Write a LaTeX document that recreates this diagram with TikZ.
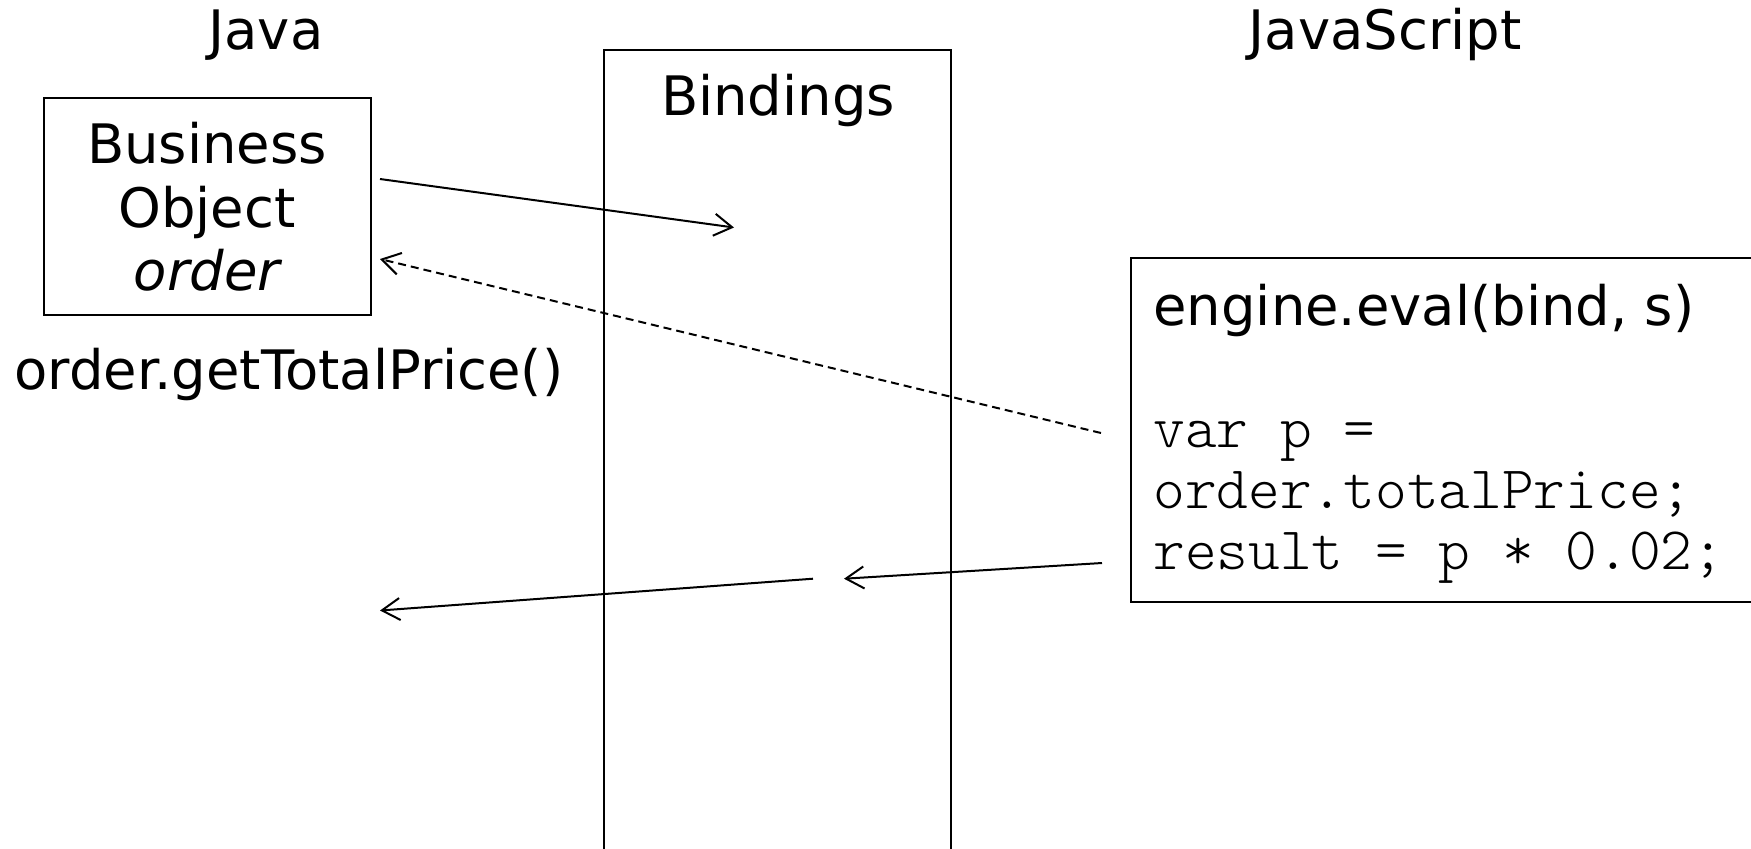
\documentclass[tikz,border=0pt]{standalone}
\usepackage{fontspec}
\setmainfont{DejaVu Sans}
\setmonofont{Latin Modern Mono Light}
\usetikzlibrary{arrows.meta}
\begin{document}
\begin{tikzpicture}[x=0.5pt,y=-0.5pt,
  box/.style={draw,line width=1pt,inner sep=0pt},
  txt/.style={inner sep=0pt,font=\fontsize{27.2}{32.5}\selectfont},
  code/.style={inner sep=0pt,font=\ttfamily\fontsize{30.2}{31}\selectfont},
  link/.style={line width=1pt,-{Straight Barb[length=9pt,width=11pt]}},
  back/.style={link,dash pattern=on 4pt off 2.5pt},
]
\useasboundingbox (0,0) rectangle (1751,848);

% column headings
\node[txt,anchor=base] (hjava) at (266,49) {Java};
\node[txt,anchor=base] (hjs) at (1385,49) {JavaScript};

% Java side: business object
\node[box,minimum width=163.6pt,minimum height=108.4pt] (bo) at (207.1,206.7) {};
\node[txt,anchor=base] (bo1) at (207,163) {Business};
\node[txt,anchor=base] (bo2) at (207,227) {Object};
\node[txt,anchor=base] (bo3) at (207,290) {\itshape order};
\node[txt,anchor=base west] (call) at (14,389) {order.getTotalPrice()};

% bindings column (runs past the lower edge)
\node[box,minimum width=173.5pt,minimum height=425pt] (bind) at (777.5,475.3) {};
\node[txt,anchor=base] (bindt) at (778,115) {Bindings};

% JavaScript side: script box (runs past the right edge)
\node[box,minimum width=334.5pt,minimum height=172pt] (js) at (1465.5,430) {};
\node[txt,anchor=base west] (eval) at (1153,325) {engine.eval(bind, s)};
\node[code,anchor=base west] (l1) at (1153,447) {var p =};
\node[code,anchor=base west] (l2) at (1153,508) {order.totalPrice;};
\node[code,anchor=base west] (l3) at (1153,569) {result = p * 0.02;};

% connector end points
\coordinate (putS) at (380,179);
\coordinate (putE) at (734,227.5);
\coordinate (getS) at (1101,433);
\coordinate (getE) at (380,259);
\coordinate (resS) at (1102,563);
\coordinate (resE) at (844,578.7);
\coordinate (retS) at (813,578.7);
\coordinate (retE) at (380,610.5);

\draw[link] (putS) -- (putE);
\draw[back] (getS) -- (getE);
\draw[link] (resS) -- (resE);
\draw[link] (retS) -- (retE);
\end{tikzpicture}
\end{document}
